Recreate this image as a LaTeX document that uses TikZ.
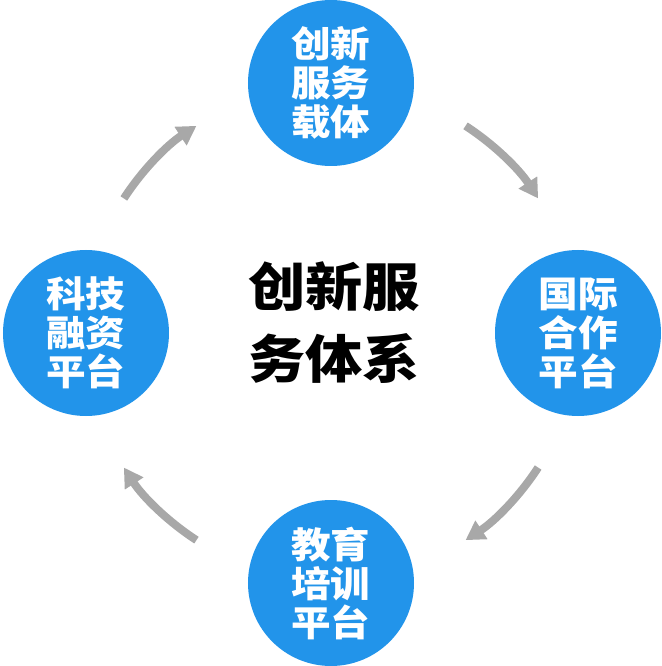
\documentclass[tikz,border=0pt]{standalone}
\usepackage{fontspec}
\newfontfamily\cjk[FakeStretch=1.1]{Noto Sans CJK SC}
\usetikzlibrary{arrows.meta}
\definecolor{hubblue}{RGB}{34,148,234}
\definecolor{flowgray}{RGB}{168,168,168}
\begin{document}
\begin{tikzpicture}[x=1pt,y=1pt,
  hub/.style={circle,fill=hubblue,minimum size=166pt,inner sep=0pt,text=white,
    align=center,font=\cjk\bfseries\fontsize{36}{39}\selectfont},
  flow/.style={draw=flowgray,line width=8pt,-{Triangle[width=21pt,length=19pt]}}]
  \useasboundingbox (-331,-333) rectangle (330,333);
  \node [hub] (carrier)   at (90:250)  {创新\\服务\\载体};
  \node [hub] (coop)      at (0:247)   {国际\\合作\\平台};
  \node [hub] (training)  at (-90:250) {教育\\培训\\平台};
  \node [hub] (finance)   at (180:245) {科技\\融资\\平台};
  \node [align=center,font=\cjk\bfseries\fontsize{52}{72}\selectfont] (system) at (3,10) {创新服\\务体系};
  \foreach \a/\name in {135/ul,45/ur,-45/lr,-135/ll} {
    \coordinate (\name) at (\a+12:247);
    \draw [flow] (\name) arc [start angle=\a+12, end angle=\a-12, radius=247];
  }
\end{tikzpicture}
\end{document}
